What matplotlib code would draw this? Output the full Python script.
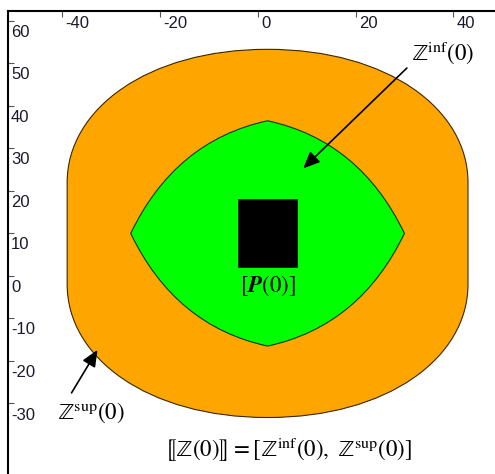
import matplotlib
matplotlib.use("Agg")
import matplotlib.pyplot as plt
from matplotlib.path import Path
from matplotlib.patches import PathPatch, Rectangle

plt.rcParams['mathtext.fontset'] = 'stix'
plt.rcParams['font.family'] = ['Liberation Sans', 'DejaVu Sans']

# ---- data ----
x_ticks = [-40, -20, 0, 20, 40]
y_ticks = [60, 50, 40, 30, 20, 10, 0, -10, -20, -30]

# outer set Z_sup(0): cubic Bezier outline (vertices + control points)
outer_x = [43, 43, 43, 26.6, 2, -22.6, -39, -39, -39, -39, -22.6, 2, 26.6, 43, 43]
outer_y = [-2, 22, 39.2, 53.3, 53.3, 53.3, 39.2, 22, -2, -19.2, -33.3, -33.3, -33.3, -19.2, -2]

# inner set Z_inf(0): quadratic Bezier lens (corners + control points)
inner_x = [-26, -16.9, 2, 20.9, 30, 20.9, 2, -16.9, -26]
inner_y = [10, 31.8, 36.5, 31.8, 10, -11.8, -16.5, -11.8, 10]

# box [P(0)]
box_x = [-4, 8]
box_y = [2, 18]

# annotations (text, position, arrow start, arrow tip)
zinf_label = r'$\mathrm{ℤ}^{\mathrm{inf}}(0)$'
zinf_pos = (31.3, 50.8)
zinf_arrow = [(30.5, 48.9), (9.3, 25.3)]
zsup_label = r'$\mathrm{ℤ}^{\mathrm{sup}}(0)$'
zsup_pos = (-41.1, -33.5)
zsup_arrow = [(-38.1, -27.5), (-32.8, -17.4)]
p_label = r'$[\boldsymbol{P}(0)]$'
p_pos = (2.15, -3.8)
interval_label = r'$⟦\mathrm{ℤ}(0)⟧ = [\mathrm{ℤ}^{\mathrm{inf}}(0),\ \mathrm{ℤ}^{\mathrm{sup}}(0)]$'
interval_pos = (6.1, -42.5)

# ---- figure ----
fig = plt.figure(figsize=(4.95, 4.74), dpi=100)
ax = fig.add_axes([0.01717, -0.01266, 0.99737, 0.9884])
ax.set_xlim(-51, 50)
ax.set_ylim(-48, 62.2)

# outer shape
codes_outer = [Path.MOVETO, Path.LINETO,
               Path.CURVE4, Path.CURVE4, Path.CURVE4,
               Path.CURVE4, Path.CURVE4, Path.CURVE4,
               Path.LINETO,
               Path.CURVE4, Path.CURVE4, Path.CURVE4,
               Path.CURVE4, Path.CURVE4, Path.CURVE4]
outer_path = Path(list(zip(outer_x, outer_y)), codes_outer)
ax.add_patch(PathPatch(outer_path, facecolor='#FFA500', edgecolor='#3a2600', lw=0.8, zorder=1))

codes_inner = [Path.MOVETO] + [Path.CURVE3] * 8
inner_path = Path(list(zip(inner_x, inner_y)), codes_inner)
ax.add_patch(PathPatch(inner_path, facecolor='#00FF00', edgecolor='#0a3a0a', lw=0.8, zorder=2))

ax.add_patch(Rectangle((box_x[0], box_y[0]), box_x[1] - box_x[0], box_y[1] - box_y[0],
                       facecolor='black', edgecolor='#102010', lw=0.6, zorder=3))

arrow_kw = dict(arrowstyle='-|>,head_length=0.5,head_width=0.22', color='black',
                lw=1.2, mutation_scale=20, shrinkA=0, shrinkB=0)
ax.annotate('', xy=zinf_arrow[1], xytext=zinf_arrow[0], arrowprops=arrow_kw, zorder=5)
ax.annotate('', xy=zsup_arrow[1], xytext=zsup_arrow[0], arrowprops=arrow_kw, zorder=5)

fs = 16.5
ax.text(*zinf_pos, zinf_label, fontsize=fs, ha='left', va='baseline', zorder=6)
ax.text(*zsup_pos, zsup_label, fontsize=fs, ha='left', va='baseline', zorder=6)
ax.text(*p_pos, p_label, fontsize=fs, ha='center', va='baseline', zorder=6)
ax.text(*interval_pos, interval_label, fontsize=fs, ha='center', va='baseline', zorder=6)

# axes frame and ticks
for s in ['right', 'bottom']:
    ax.spines[s].set_visible(False)
for s in ['top', 'left']:
    ax.spines[s].set_linewidth(1.5)
    ax.spines[s].set_color('black')
ax.xaxis.set_ticks_position('top')
ax.yaxis.set_ticks_position('left')
ax.set_xticks(x_ticks)
ax.set_yticks(y_ticks)
ax.tick_params(direction='in', length=4, width=0.8, color='#555555',
               labeltop=False, labelbottom=False, labelleft=False)

for t in x_ticks:
    ax.annotate(str(t), xy=(t, 1), xycoords=('data', 'axes fraction'),
                xytext=(2.4, -3.2), textcoords='offset points',
                ha='left', va='top', fontsize=12, color='#1a1a2a')
for t in y_ticks:
    ax.annotate(str(t), xy=(0, t), xycoords=('axes fraction', 'data'),
                xytext=(1.8, -2.9), textcoords='offset points',
                ha='left', va='top', fontsize=12, color='#1a1a2a')

fig.savefig('out.png', dpi=100)
